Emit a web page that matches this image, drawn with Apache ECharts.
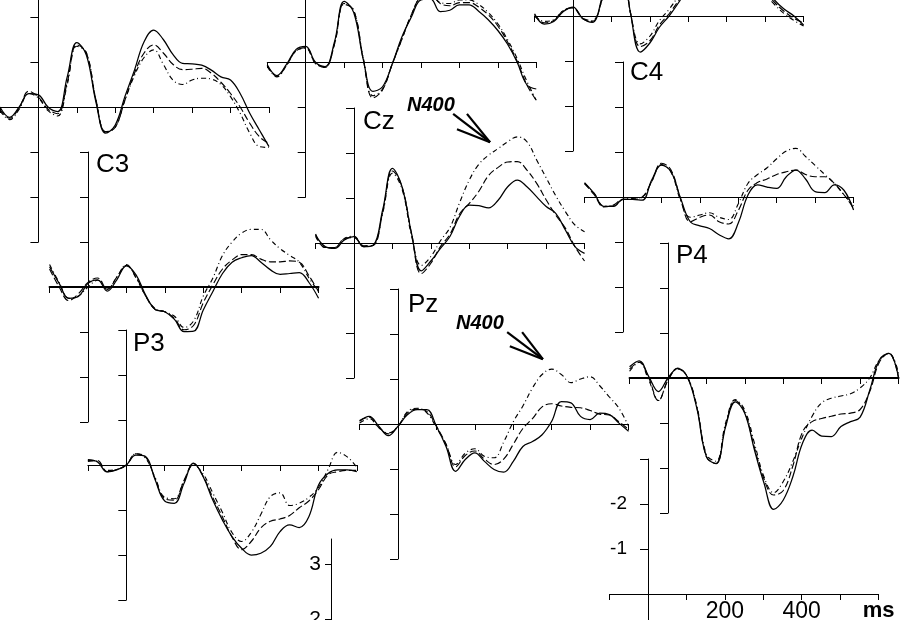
<!DOCTYPE html>
<html><head><meta charset="utf-8">
<script src="https://cdn.jsdelivr.net/npm/echarts@6/dist/echarts.min.js"></script>
<style>html,body{margin:0;padding:0;background:#fff}#c{width:900px;height:620px}</style>
</head><body><div id="c"></div>
<script>
// time axis (ms) shared by all electrodes
const times = [-100,-75,-50,-25,0,25,50,75,100,125,150,175,200,225,250,275,300,325,350,375,400,425,450,475,500,525,550,575,600];

// amplitudes (µV, negative plotted up) — solid / dashed / dash-dot conditions
const F3_solid   = [0.0,0.23,0.0,-0.3,-0.27,0.0,0.1,-0.67,-1.43,-1.15,-0.1,0.58,0.4,-0.23,-0.82,-1.45,-1.71,-1.5,-1.17,-0.97,-0.96,-0.93,-0.82,-0.67,-0.6,-0.3,0.14,0.51,0.88];
const F3_dashed  = [0.05,0.25,0.02,-0.35,-0.22,0.05,0.15,-0.55,-1.38,-1.2,-0.15,0.55,0.45,-0.15,-0.75,-1.2,-1.38,-1.2,-0.95,-0.83,-0.84,-0.86,-0.75,-0.55,-0.3,0.0,0.36,0.66,0.81];
const F3_dashdot = [0.08,0.28,0.05,-0.3,-0.2,0.08,0.2,-0.5,-1.35,-1.2,-0.15,0.55,0.45,-0.15,-0.7,-1.1,-1.27,-0.95,-0.6,-0.5,-0.6,-0.64,-0.62,-0.5,-0.23,0.14,0.58,0.88,0.9];

const Fz_solid   = [0.06,0.3,0.05,-0.28,-0.35,0.0,0.1,-0.45,-1.35,-1.1,-0.05,0.65,0.55,0.05,-0.55,-1.0,-1.38,-1.4,-1.12,-1.15,-1.27,-1.27,-1.13,-0.94,-0.7,-0.4,0.0,0.5,0.6];
const Fz_dashed  = [0.08,0.32,0.07,-0.25,-0.32,0.02,0.12,-0.4,-1.3,-1.15,-0.05,0.8,0.62,0.05,-0.5,-1.05,-1.45,-1.5,-1.3,-1.25,-1.32,-1.32,-1.22,-1.05,-0.8,-0.45,-0.02,0.5,0.85];
const Fz_dashdot = [0.1,0.33,0.08,-0.25,-0.3,0.03,0.12,-0.4,-1.28,-1.15,-0.08,0.75,0.6,0.05,-0.5,-1.05,-1.45,-1.5,-1.32,-1.3,-1.38,-1.38,-1.28,-1.1,-0.85,-0.5,-0.08,0.42,0.85];

const F4_solid   = [-0.05,0.18,0.12,-0.1,-0.2,0.05,0.14,-0.4,-1.3,-1.25,-0.05,0.8,0.6,0.25,0.0,-0.3,-0.65,-0.95,-1.1,-1.15,-1.15,-1.1,-1.05,-0.9,-0.65,-0.35,-0.15,0.0,0.2];
const F4_dashed  = [-0.03,0.15,0.1,-0.12,-0.18,0.06,0.12,-0.35,-1.25,-1.25,-0.05,0.68,0.55,0.2,-0.05,-0.35,-0.7,-1.0,-1.15,-1.2,-1.2,-1.15,-1.1,-0.95,-0.55,-0.3,-0.1,0.05,0.15];
const F4_dashdot = [0.0,0.12,0.08,-0.12,-0.18,0.05,0.1,-0.35,-1.2,-1.2,-0.05,0.62,0.45,0.1,-0.15,-0.45,-0.8,-1.05,-1.2,-1.25,-1.25,-1.2,-1.1,-0.9,-0.5,-0.25,-0.05,0.1,0.22];

const C3_solid   = [-0.45,-0.08,0.25,0.21,-0.08,-0.16,0.09,-0.16,-0.47,-0.27,0.18,0.5,0.55,0.72,0.99,0.98,0.51,0.1,-0.3,-0.55,-0.65,-0.7,-0.55,-0.38,-0.28,-0.3,-0.32,-0.1,0.25];
const C3_dashed  = [-0.4,0.0,0.3,0.15,-0.1,-0.2,0.05,-0.22,-0.48,-0.22,0.2,0.5,0.55,0.7,0.95,0.85,0.35,-0.05,-0.4,-0.6,-0.72,-0.72,-0.62,-0.56,-0.56,-0.58,-0.55,-0.25,0.1];
const C3_dashdot = [-0.5,-0.1,0.25,0.2,0.0,-0.15,0.05,-0.22,-0.5,-0.2,0.2,0.48,0.55,0.65,0.9,0.75,0.2,-0.2,-0.7,-1.0,-1.2,-1.28,-1.28,-1.05,-0.85,-0.7,-0.55,-0.2,0.1];

const Cz_solid   = [-0.18,0.08,0.12,-0.07,-0.14,0.08,0.05,-0.75,-1.66,-1.25,-0.2,0.62,0.4,0.12,-0.15,-0.6,-0.84,-0.83,-0.78,-0.95,-1.25,-1.4,-1.25,-1.03,-0.81,-0.66,-0.29,0.08,0.23];
const Cz_dashed  = [-0.2,0.1,0.1,-0.1,-0.12,0.06,0.05,-0.7,-1.6,-1.25,-0.2,0.68,0.45,0.08,-0.2,-0.65,-0.88,-1.15,-1.5,-1.68,-1.8,-1.81,-1.62,-1.33,-0.96,-0.62,-0.33,0.08,0.4];
const Cz_dashdot = [-0.15,0.1,0.1,-0.1,-0.15,0.08,0.05,-0.68,-1.55,-1.2,-0.15,0.5,0.3,-0.05,-0.35,-0.9,-1.4,-1.75,-1.95,-2.1,-2.25,-2.36,-2.25,-1.85,-1.45,-1.05,-0.7,-0.4,-0.25];

const C4_solid   = [-0.32,-0.08,0.21,0.21,0.05,0.05,0.07,-0.38,-0.71,-0.56,0.03,0.55,0.64,0.7,0.84,0.93,0.58,-0.04,-0.27,-0.22,-0.19,-0.45,-0.6,-0.4,-0.12,-0.1,-0.27,-0.15,0.29];
const C4_dashed  = [-0.3,-0.05,0.22,0.18,0.05,0.05,0.0,-0.35,-0.75,-0.6,0.05,0.55,0.45,0.4,0.55,0.6,0.3,-0.15,-0.32,-0.4,-0.5,-0.56,-0.6,-0.5,-0.45,-0.45,-0.3,-0.05,0.25];
const C4_dashdot = [-0.3,-0.08,0.2,0.2,0.05,0.03,0.0,-0.35,-0.72,-0.55,0.08,0.45,0.4,0.35,0.45,0.5,0.15,-0.3,-0.5,-0.65,-0.85,-1.02,-1.08,-0.9,-0.7,-0.5,-0.3,-0.05,0.2];

const P3_solid   = [-0.12,-0.07,0.15,0.11,0.0,-0.22,-0.19,0.33,0.8,0.85,0.41,-0.04,0.26,0.78,1.22,1.59,1.85,2.0,1.96,1.81,1.48,1.33,1.39,1.15,0.45,0.19,0.11,0.11,0.15];
const P3_dashed  = [-0.08,-0.1,0.15,0.1,0.0,-0.25,-0.18,0.3,0.75,0.78,0.35,-0.03,0.25,0.72,1.15,1.6,1.88,1.7,1.4,1.25,1.2,1.12,0.95,0.8,0.55,0.22,0.15,0.12,0.12];
const P3_dashdot = [-0.1,-0.08,0.12,0.1,0.0,-0.25,-0.15,0.28,0.72,0.75,0.35,0.0,0.2,0.62,1.05,1.5,1.7,1.5,1.1,0.7,0.62,0.9,0.85,0.72,0.5,0.1,-0.28,-0.18,0.05];

const Pz_solid   = [-0.06,-0.17,0.05,0.26,0.05,-0.21,-0.32,-0.32,0.05,0.5,1.05,0.79,0.64,0.83,1.01,1.07,0.83,0.5,0.39,0.24,-0.06,-0.5,-0.47,-0.17,-0.1,-0.24,-0.21,-0.02,0.16];
const Pz_dashed  = [-0.08,-0.15,0.08,0.22,0.05,-0.25,-0.33,-0.28,0.05,0.45,0.95,0.7,0.6,0.78,0.9,0.78,0.45,0.1,-0.12,-0.38,-0.45,-0.4,-0.37,-0.36,-0.3,-0.22,-0.2,-0.05,0.12];
const Pz_dashdot = [-0.02,-0.12,0.08,0.2,0.05,-0.28,-0.35,-0.25,0.08,0.45,0.9,0.65,0.55,0.72,0.75,0.4,-0.05,-0.4,-0.8,-1.1,-1.22,-1.1,-0.92,-1.0,-1.05,-0.85,-0.6,-0.35,0.05];

const P4_solid   = [-0.25,-0.38,-0.03,0.3,0.0,-0.21,-0.03,0.67,1.75,1.9,1.08,0.53,0.79,1.6,2.34,2.92,2.71,2.19,1.45,1.16,1.29,1.3,1.08,0.97,0.87,0.27,-0.4,-0.55,0.0];
const P4_dashed  = [-0.2,-0.35,0.0,0.5,0.05,-0.22,-0.03,0.65,1.75,1.9,1.05,0.5,0.77,1.55,2.25,2.6,2.5,1.95,1.2,0.97,0.9,0.85,0.8,0.78,0.7,0.3,-0.35,-0.55,0.0];
const P4_dashdot = [-0.15,-0.35,0.05,0.5,0.05,-0.2,-0.03,0.62,1.7,1.85,1.0,0.48,0.72,1.45,2.2,2.55,2.3,1.85,1.3,0.85,0.55,0.45,0.4,0.35,0.22,0.0,-0.4,-0.55,-0.1];

// scale bar tick labels
const scaleTimeLabels = {200:'200', 400:'400', 600:'ms'};
const scaleAmpLabels = {'-2':'-2', '-1':'-1'};
const scale2Labels = [2, 3];

// N400 arrow annotations (data coords of the panel: ms, µV)
const Cz_arrow = {tip:[354,-2.24], tails:[[258,-2.87],[294,-2.87],[268,-2.53]]};
const Pz_arrow = {tip:[377,-1.44], tails:[[284,-2.04],[323,-2.04],[291,-1.73]]};

// ---------- layout ----------
const PXMS = 269/700, PXUV = 45;
const FONT = '"Liberation Sans", Arial, Helvetica, sans-serif';
const panels = [
  {name:'F3', ax:38.4,  by:107, lines:[F3_solid,F3_dashed,F3_dashdot]},
  {name:'Fz', ax:305.7, by:62,  lines:[Fz_solid,Fz_dashed,Fz_dashdot]},
  {name:'F4', ax:573,   by:16,  lines:[F4_solid,F4_dashed,F4_dashdot]},
  {name:'C3', ax:88,    by:287, lines:[C3_solid,C3_dashed,C3_dashdot], bold:true, label:[96,165]},
  {name:'Cz', ax:354,   by:243, lines:[Cz_solid,Cz_dashed,Cz_dashdot], label:[363,122], arrow:Cz_arrow},
  {name:'C4', ax:623,   by:197, lines:[C4_solid,C4_dashed,C4_dashdot], label:[630,73]},
  {name:'P3', ax:126.3, by:465, lines:[P3_solid,P3_dashed,P3_dashdot], label:[133,344]},
  {name:'Pz', ax:398,   by:424, lines:[Pz_solid,Pz_dashed,Pz_dashdot], label:[408,305], arrow:Pz_arrow},
  {name:'P4', ax:668,   by:378, lines:[P4_solid,P4_dashed,P4_dashdot], bold:true, label:[676,256]}
];
const lineTypes = ['solid', [7,3], [5,3,1,3]];
const lineWidths = [1.25, 1.15, 1.15];

const grids = [], xAxes = [], yAxes = [], series = [], graphics = [];
const blk = '#000';
const freeBounds = {outerBoundsMode:'none', outerBounds:{left:-2000, top:-2000, right:-2000, bottom:-2000}, containLabel:false};

function addPanelAxes(i, ax, by, opts) {
  grids.push(Object.assign({left: ax - 100*PXMS, top: by - 3*PXUV, width: 700*PXMS, height: 6*PXUV}, freeBounds));
  xAxes.push({
    gridIndex:i, type:'value', min:-100, max:600, interval:100,
    axisLine:{show:true, onZero:true, lineStyle:{color:blk, width: opts.bold ? 2 : 1}},
    axisTick:{show:true, length:6, lineStyle:{color:blk, width:1}},
    axisLabel:{show:false}, splitLine:{show:false}
  });
  yAxes.push({
    gridIndex:i, type:'value', inverse:true, min:-3, max:3, interval:1,
    axisLine:{show:true, onZero:true, lineStyle:{color:blk, width:1}},
    axisTick:{show:true, length:8, lineStyle:{color:blk, width:1}},
    axisLabel:{show:false}, splitLine:{show:false}
  });
}

panels.forEach((p, i) => {
  addPanelAxes(i, p.ax, p.by, {bold:p.bold});
  p.lines.forEach((arr, k) => {
    const s = {
      type:'line', name:p.name + ['-solid','-dashed','-dashdot'][k],
      xAxisIndex:i, yAxisIndex:i,
      data: times.map((t, j) => [t, arr[j]]),
      smooth:0.4, showSymbol:false, symbol:'none', clip:false, silent:true,
      lineStyle:{color:blk, width:lineWidths[k], type:lineTypes[k]},
      z: 3
    };
    if (k === 2 && p.arrow) {
      s.markLine = {
        silent:true, symbol:['none','none'], animation:false,
        label:{show:false},
        lineStyle:{color:blk, width:2.2, type:'solid'},
        data: p.arrow.tails.map(tl => [{coord:tl}, {coord:p.arrow.tip}])
      };
    }
    series.push(s);
  });
  if (p.label) {
    graphics.push({type:'text', x:p.label[0], y:p.label[1],
      style:{text:p.name, font:'26px ' + FONT, fill:blk, textAlign:'left', textVerticalAlign:'middle', verticalAlign:'middle'}});
  }
});

// ---- scale bar (bottom right): time axis in its own grid ----
const SX = 648, SY = 594;
let gi = panels.length;
grids.push(Object.assign({left: SX - 100*PXMS, top: SY - 3*PXUV, width: 700*PXMS, height: 3*PXUV}, freeBounds));
xAxes.push({
  gridIndex:gi, type:'value', min:-100, max:600, interval:100, position:'bottom',
  axisLine:{show:true, onZero:false, lineStyle:{color:blk, width:1}},
  axisTick:{show:true, length:6, lineStyle:{color:blk}},
  axisLabel:{
    show:true, interval:0, showMinLabel:true, showMaxLabel:true, hideOverlap:false, margin:6,
    color:blk, fontSize:23, fontFamily:FONT,
    formatter: v => scaleTimeLabels[v] ? (v === 600 ? '{b|' + scaleTimeLabels[v] + '}' : scaleTimeLabels[v]) : '',
    rich:{b:{fontWeight:'bold', fontSize:22, fontFamily:FONT, color:blk}}
  },
  splitLine:{show:false}
});
yAxes.push({gridIndex:gi, type:'value', min:0, max:1, show:false});

// ---- scale bar: amplitude axis in its own grid ----
gi++;
grids.push(Object.assign({left: SX, top: SY - 3*PXUV, width: 5, height: 6*PXUV}, freeBounds));
xAxes.push({gridIndex:gi, type:'value', min:0, max:1, show:false});
yAxes.push({
  gridIndex:gi, type:'value', inverse:true, min:-3, max:3, interval:1, position:'left',
  axisLine:{show:true, onZero:false, lineStyle:{color:blk, width:1}},
  axisTick:{show:true, length:8, lineStyle:{color:blk}},
  axisLabel:{show:true, interval:0, margin:21, color:blk, fontSize:19, fontFamily:FONT,
    formatter: v => scaleAmpLabels[String(v)] || ''},
  splitLine:{show:false}
});

// ---- second partial scale (bottom centre) ----
gi++;
grids.push(Object.assign({left:331, top:539, width:10, height:3.45*55}, freeBounds));
xAxes.push({gridIndex:gi, type:'value', min:0, max:1, show:false});
yAxes.push({
  gridIndex:gi, type:'value', min:0, max:3.45, interval:1, position:'left',
  axisLine:{show:true, onZero:false, lineStyle:{color:blk, width:1}},
  axisTick:{show:true, length:6, customValues:scale2Labels, lineStyle:{color:blk}},
  axisLabel:{show:true, customValues:scale2Labels, margin:10, color:blk, fontSize:21, fontFamily:FONT},
  splitLine:{show:false}
});

// N400 labels
graphics.push({type:'text', x:407, y:105, style:{text:'N400', font:'italic bold 20px ' + FONT, fill:blk, textVerticalAlign:'middle', verticalAlign:'middle'}});
graphics.push({type:'text', x:456, y:323, style:{text:'N400', font:'italic bold 20px ' + FONT, fill:blk, textVerticalAlign:'middle', verticalAlign:'middle'}});

const chart = echarts.init(document.getElementById('c'), null, {renderer:'canvas'});
chart.setOption({
  animation:false,
  backgroundColor:'#fff',
  grid:grids, xAxis:xAxes, yAxis:yAxes, series:series,
  graphic:graphics
});
</script>
</body></html>
